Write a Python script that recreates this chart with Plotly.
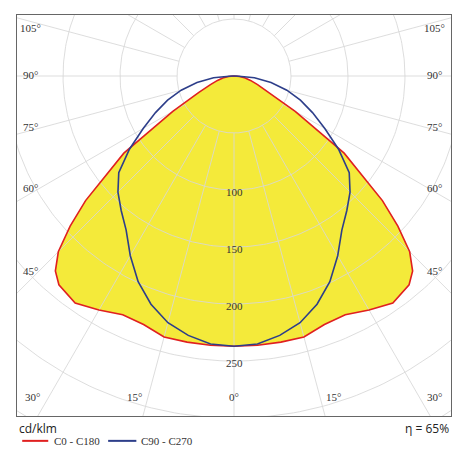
import numpy as np
import plotly.graph_objects as go

gamma = [0, 5, 10, 15, 20, 25, 30, 35, 40, 42.5, 45, 47.5, 50, 55, 60, 65, 70, 75, 80, 85, 90]
c0_c180 = [237, 237, 237, 237, 232, 231, 237, 243, 239, 232, 218, 195, 170, 118, 62, 34, 22, 15, 10, 5, 0]
gamma_b = [0, 5, 10, 15, 20, 25, 30, 35, 40, 45, 50, 55, 60, 65, 70, 75, 80, 85, 90]
c90_c270 = [237, 236, 231, 224, 213, 199, 182, 165, 154, 144, 132, 112, 92, 76, 62, 48, 33, 18, 2]
radial_ticks = [100, 150, 200, 250]
side_labels = ["105°", "90°", "75°", "60°", "45°"]
side_label_y = [42, 1, -45, -98, -171]
bottom_labels = ["30°", "15°", "0°", "15°", "30°"]
bottom_label_x = [-177, -87, 0, 87, 176]

def full_curve(g, r):
    g = np.array(g, float); r = np.array(r, float)
    gg = np.concatenate([g, -g[::-1]]); rr = np.concatenate([r, r[::-1]])
    t = np.radians(gg)
    return rr * np.sin(t), -rr * np.cos(t)

fig = go.Figure()
GRID = "rgba(215,215,215,0.85)"
xr, yr = full_curve(gamma, c0_c180)
fig.add_trace(go.Scatter(x=xr, y=yr, fill="toself", fillcolor="#f4ea3a", line=dict(width=0), mode="lines", hoverinfo="skip"))
th = np.linspace(0, 2*np.pi, 361)
for rc in range(50, 401, 50):
    fig.add_trace(go.Scatter(x=rc*np.cos(th), y=rc*np.sin(th), mode="lines", line=dict(color=GRID, width=1), hoverinfo="skip"))
for a in range(0, 360, 15):
    t = np.radians(a)
    fig.add_trace(go.Scatter(x=[50*np.sin(t), 450*np.sin(t)], y=[-50*np.cos(t), -450*np.cos(t)], mode="lines", line=dict(color=GRID, width=1), hoverinfo="skip"))
fig.add_trace(go.Scatter(x=xr, y=yr, mode="lines", line=dict(color="#e02020", width=1.6), hoverinfo="skip"))
xb, yb = full_curve(gamma_b, c90_c270)
fig.add_trace(go.Scatter(x=xb, y=yb, mode="lines", line=dict(color="#2d3e8a", width=1.6), hoverinfo="skip"))

SF = dict(family="Liberation Serif", size=11, color="#333")
for v in radial_ticks:
    fig.add_annotation(x=0, y=-v, text=str(v), showarrow=False, font=SF, yshift=-2)
for txt, y in zip(side_labels, side_label_y):
    for xp in [0.03, 0.961]:
        fig.add_annotation(xref="paper", x=xp, y=y, text=txt, showarrow=False, font=SF, xanchor="center")
for txt, xv in zip(bottom_labels, bottom_label_x):
    fig.add_annotation(x=xv, yref="paper", y=0.027, text=txt, showarrow=False, font=SF)

SS = dict(family="Open Sans", size=12, color="#222")
fig.add_annotation(xref="paper", yref="paper", x=0.0, y=-0.03, xanchor="left", yanchor="middle", text="cd/klm", showarrow=False, font=SS)
fig.add_annotation(xref="paper", yref="paper", x=1.0, y=-0.03, xanchor="right", yanchor="middle", text="η = 65%", showarrow=False, font=SS)
fig.add_shape(type="line", xref="paper", yref="paper", x0=0.012, x1=0.072, y0=-0.062, y1=-0.062, line=dict(color="#e02020", width=2))
fig.add_annotation(xref="paper", yref="paper", x=0.08, y=-0.062, xanchor="left", yanchor="middle", text="C0 - C180", showarrow=False, font=SF)
fig.add_shape(type="line", xref="paper", yref="paper", x0=0.21, x1=0.275, y0=-0.062, y1=-0.062, line=dict(color="#2d3e8a", width=2))
fig.add_annotation(xref="paper", yref="paper", x=0.28, y=-0.062, xanchor="left", yanchor="middle", text="C90 - C270", showarrow=False, font=SF)

ax = dict(showgrid=False, zeroline=False, showticklabels=False, showline=True, mirror=True, linecolor="#666", linewidth=1)
fig.update_xaxes(range=[-190.4, 190.4], **ax)
fig.update_yaxes(range=[-298.2, 53.5], **ax)
fig.update_layout(width=470, height=463, margin=dict(l=9, r=27, t=7, b=55), showlegend=False,
                  plot_bgcolor="white", paper_bgcolor="white")
fig.write_html("out.html")
